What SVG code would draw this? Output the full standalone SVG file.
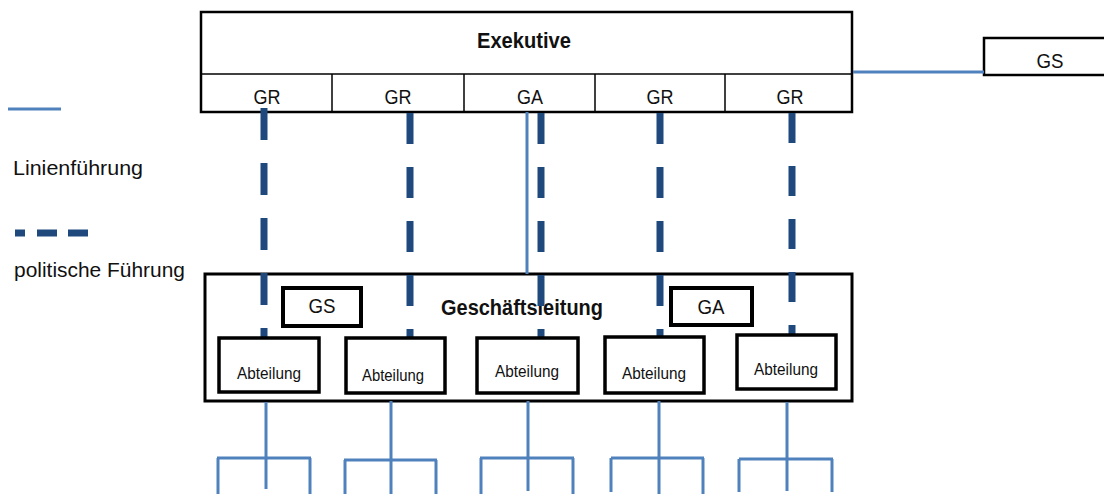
<svg xmlns="http://www.w3.org/2000/svg" width="1104" height="494" viewBox="0 0 1104 494">
<style>
text{font-family:"Liberation Sans",Arial,sans-serif;fill:#111;}
.box{fill:#fff;stroke:#000;}
.thin{stroke:#000;stroke-width:1.5;fill:none;}
.line{stroke:#4F81BD;stroke-width:3;fill:none;}
.pol{stroke:#1F497D;stroke-width:7;fill:none;stroke-dasharray:31 23;}
.t18{font-size:20px;text-anchor:middle;}
.abt{font-size:16.5px;text-anchor:middle;}
.bold{font-weight:bold;text-anchor:middle;}
.leg{font-size:21px;}
</style>
<rect width="1104" height="494" fill="#fff"/>

<g id="legend">
<line x1="8" y1="109" x2="61" y2="109" class="line"/>
<text x="13" y="175" class="leg" textLength="130" lengthAdjust="spacingAndGlyphs">Linienführung</text>
<path d="M15 233h10M37 233h20M68 233h20" stroke="#1F497D" stroke-width="7" fill="none"/>
<text x="14" y="277" class="leg" textLength="171" lengthAdjust="spacingAndGlyphs">politische Führung</text>
</g>

<g id="exekutive">
<rect x="201" y="12" width="651" height="100" class="box" stroke-width="2.5"/>
<line x1="201" y1="74" x2="852" y2="74" class="thin"/>
<line x1="332" y1="74" x2="332" y2="112" class="thin"/>
<line x1="464" y1="74" x2="464" y2="112" class="thin"/>
<line x1="595" y1="74" x2="595" y2="112" class="thin"/>
<line x1="725" y1="74" x2="725" y2="112" class="thin"/>
<text x="524" y="48" class="bold" font-size="22" textLength="94" lengthAdjust="spacingAndGlyphs">Exekutive</text>
<text x="267" y="104" class="t18" textLength="27" lengthAdjust="spacingAndGlyphs">GR</text>
<text x="398" y="104" class="t18" textLength="27" lengthAdjust="spacingAndGlyphs">GR</text>
<text x="530" y="104" class="t18" textLength="26" lengthAdjust="spacingAndGlyphs">GA</text>
<text x="660" y="104" class="t18" textLength="27" lengthAdjust="spacingAndGlyphs">GR</text>
<text x="790" y="104" class="t18" textLength="27" lengthAdjust="spacingAndGlyphs">GR</text>
</g>

<g id="gs-top">
<rect x="984" y="38" width="130" height="37" class="box" stroke-width="2.5"/>
<text x="1050" y="68" class="t18" textLength="27" lengthAdjust="spacingAndGlyphs">GS</text>
</g>

<g id="geschaeftsleitung">
<rect x="205" y="274" width="647" height="127" class="box" stroke-width="3"/>
<text x="522" y="315" class="bold" font-size="21.5" textLength="162" lengthAdjust="spacingAndGlyphs">Geschäftsleitung</text>
</g>

<g id="gs-inner">
<rect x="283" y="288" width="78" height="38" class="box" stroke-width="4"/>
<text x="322" y="313" class="t18" textLength="27" lengthAdjust="spacingAndGlyphs">GS</text>
</g>
<g id="ga-inner">
<rect x="671" y="288" width="81" height="37" class="box" stroke-width="4"/>
<text x="711" y="314" class="t18" textLength="27" lengthAdjust="spacingAndGlyphs">GA</text>
</g>

<g id="connectors">
<line x1="853" y1="72" x2="984" y2="72" class="line"/>
<line x1="527" y1="112" x2="527" y2="274" class="line" stroke-width="2.5"/>
<line x1="264" y1="108" x2="264" y2="337" class="pol" style="stroke-dasharray:32 23"/>
<line x1="410" y1="113" x2="410" y2="337" class="pol"/>
<line x1="541" y1="113" x2="541" y2="337" class="pol"/>
<line x1="660" y1="113" x2="660" y2="337" class="pol"/>
<line x1="792" y1="113" x2="792" y2="335" class="pol" style="stroke-dasharray:30 23"/>
<path class="line" d="M266 402V458M217 458H311M218 458V494M266 458V489M310 458V494"/>
<path class="line" d="M391 401V460M344 460H437M345 460V494M391 460V494M436 460V494"/>
<path class="line" d="M528 401V458M480 458H574M481 458V494M528 458V491M573 458V494"/>
<path class="line" d="M659 401V458M611 458H704M611 458V492M659 458V494M703 458V494"/>
<path class="line" d="M787 402V459M739 459H833M739 459V492M787 459V491M832 459V492"/>
</g>

<g id="abt1">
<rect x="219" y="338" width="100" height="54" class="box" stroke-width="3.5"/>
<text x="269" y="379" class="abt" textLength="64" lengthAdjust="spacingAndGlyphs">Abteilung</text>
</g>
<g id="abt2">
<rect x="346" y="338" width="99" height="55" class="box" stroke-width="3.5"/>
<text x="393" y="381" class="abt" textLength="62" lengthAdjust="spacingAndGlyphs">Abteilung</text>
</g>
<g id="abt3">
<rect x="477" y="338" width="101" height="55" class="box" stroke-width="3.5"/>
<text x="527" y="377" class="abt" textLength="64" lengthAdjust="spacingAndGlyphs">Abteilung</text>
</g>
<g id="abt4">
<rect x="605" y="337" width="99" height="56" class="box" stroke-width="3.5"/>
<text x="654" y="379" class="abt" textLength="64" lengthAdjust="spacingAndGlyphs">Abteilung</text>
</g>
<g id="abt5">
<rect x="737" y="335" width="99" height="54" class="box" stroke-width="3.5"/>
<text x="786" y="375" class="abt" textLength="64" lengthAdjust="spacingAndGlyphs">Abteilung</text>
</g>
</svg>
